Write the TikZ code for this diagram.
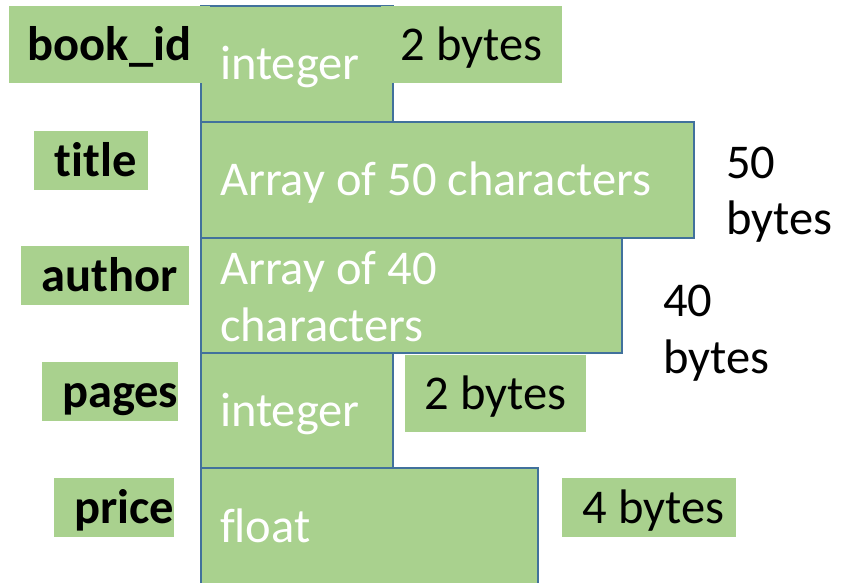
\documentclass[tikz,border=0pt]{standalone}
\usepackage{fontspec}
\setmainfont{Carlito}[Ligatures=NoCommon]
\definecolor{boxgreen}{HTML}{A9D18E}
\definecolor{boxblue}{HTML}{41719C}
\newcommand{\bigfont}{\fontsize{48.5pt}{57pt}\selectfont}
\begin{document}
\begin{tikzpicture}[x=1pt,y=-1pt,
  every node/.style={execute at begin node={\spaceskip=0pt\xspaceskip=0pt\hyphenpenalty=10000\exhyphenpenalty=10000}},
  typebox/.style={draw=boxblue, line width=2pt, fill=boxgreen, text=white, anchor=north west,
    inner xsep=19pt, inner ysep=0pt, outer sep=0pt, align=flush left, font=\bigfont,
    text height=34pt, text depth=2pt},
  lblbox/.style={fill=boxgreen, anchor=north west, inner sep=0pt, outer sep=0pt, font=\bigfont\bfseries, text=black,
    text height=34pt, text depth=2pt},
  sizebox/.style={fill=boxgreen, anchor=north west, inner sep=0pt, outer sep=0pt, font=\bigfont, text=black,
    text height=34pt, text depth=2pt},
  sizetext/.style={anchor=base west, align=flush left, inner sep=0pt, font=\bigfont, text=black}]
\useasboundingbox (0,0) rectangle (847,583);
\clip (0,0) rectangle (847,583);
% row 1
\node[typebox, minimum height=116pt, text width=154pt] (int1) at (201,6) {integer};
\node[lblbox, minimum width=201pt, minimum height=77pt] (bookid) at (9,6) {book\_id};
\node[sizebox, minimum width=181pt, minimum height=77pt] (two1) at (381,6) {2 bytes};
% row 2
\node[typebox, minimum height=116pt, text width=455pt] (arr50) at (201,122) {Array of 50 characters};
\node[lblbox, minimum width=114pt, minimum height=59pt] (title) at (34,131) {\hspace*{9pt}title};
\node[sizetext] (b50) at (726,235) {50\\bytes};
% row 3
\node[typebox, minimum height=115pt, text width=383pt, text height=34pt, text depth=57pt] (arr40) at (201,238) {Array of 40 characters};
\node[lblbox, minimum width=168pt, minimum height=59pt] (author) at (21,246) {\hspace*{10pt}author};
\node[sizetext] (b40) at (663,373) {40\\bytes};
% row 4
\node[typebox, minimum height=115pt, text width=154pt] (int2) at (201,353) {integer};
\node[lblbox, minimum width=134pt, minimum height=59pt] (pages) at (42,362) {\hspace*{20pt}pages};
\node[sizebox, minimum width=181pt, minimum height=77pt] (two2) at (405,354.5) {2 bytes};
% row 5
\node[typebox, minimum height=116pt, text width=299pt] (float) at (201,468) {float};
\node[lblbox, minimum width=118pt, minimum height=59pt] (price) at (54,478) {\hspace*{20pt}price};
\node[sizebox, minimum width=174pt, minimum height=59pt] (four) at (562,478) {\hspace*{9pt}4 bytes};
\end{tikzpicture}
\end{document}
